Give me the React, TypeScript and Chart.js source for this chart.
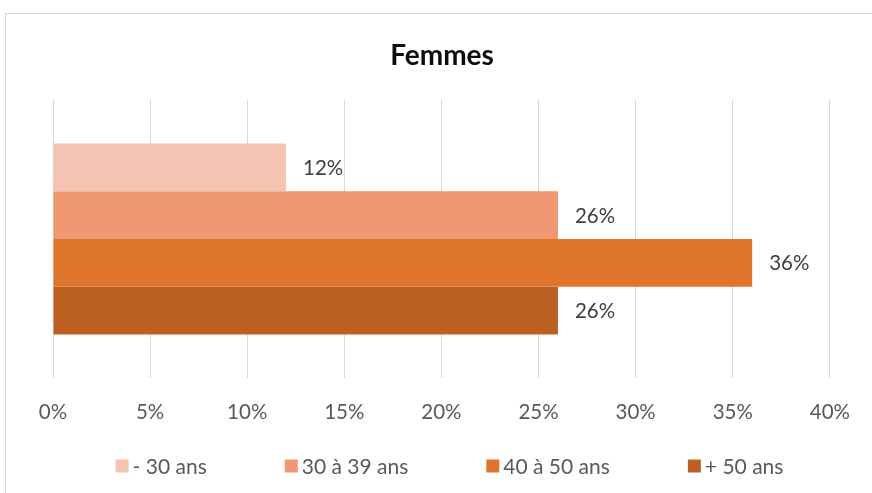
import React, { useEffect, useRef } from "react";
import { Chart, registerables } from "chart.js";

Chart.register(...registerables);

const categories = ["Femmes"];
const seriesLabels = ["- 30 ans", "30 à 39 ans", "40 à 50 ans", "+ 50 ans"];
const seriesValues = [[12], [26], [36], [26]];
const seriesColors = ["#F5C3B2", "#F09871", "#DF742D", "#BB6022"];
const tickValues = [0, 5, 10, 15, 20, 25, 30, 35, 40];

const FONT = "Lato, 'Open Sans', sans-serif";

const frameBorder = {
  id: "frameBorder",
  beforeDraw(chart: any) {
    const ctx = chart.ctx;
    ctx.save();
    ctx.fillStyle = "#ffffff";
    ctx.fillRect(0, 0, chart.width, chart.height);
    ctx.strokeStyle = "#d9d9d9";
    ctx.lineWidth = 1;
    ctx.strokeRect(5.5, 13.5, chart.width + 50, chart.height + 50);
    ctx.restore();
  },
};

const valueLabels = {
  id: "valueLabels",
  afterDatasetsDraw(chart: any) {
    const ctx = chart.ctx;
    ctx.save();
    ctx.font = `20.5px ${FONT}`;
    ctx.fillStyle = "#404040";
    ctx.textBaseline = "middle";
    ctx.textAlign = "left";
    chart.data.datasets.forEach((ds: any, i: number) => {
      const meta = chart.getDatasetMeta(i);
      meta.data.forEach((bar: any, j: number) => {
        ctx.fillText(`${ds.data[j]}%`, bar.x + 17, bar.y + 1);
      });
    });
    ctx.restore();
  },
};

const bottomLegend = {
  id: "bottomLegend",
  afterDraw(chart: any) {
    const ctx = chart.ctx;
    ctx.save();
    ctx.font = `21px ${FONT}`;
    const box = 13;
    const gapText = 4;
    const gapItem = 78;
    const ds = chart.data.datasets;
    const widths = ds.map((d: any) => box + gapText + ctx.measureText(d.label).width);
    const total = widths.reduce((a: number, b: number) => a + b, 0) + gapItem * (ds.length - 1);
    let x = 449.5 - total / 2;
    const cy = 466;
    ds.forEach((d: any, i: number) => {
      ctx.fillStyle = d.backgroundColor;
      ctx.fillRect(x, cy - box / 2, box, box);
      ctx.fillStyle = "#595959";
      ctx.textBaseline = "middle";
      ctx.textAlign = "left";
      ctx.fillText(d.label, x + box + gapText, cy + 1);
      x += widths[i] + gapItem;
    });
    ctx.restore();
  },
};

export default function App() {
  const ref = useRef<HTMLCanvasElement>(null);
  useEffect(() => {
    if (!ref.current) return;
    const chart = new Chart(ref.current, {
      type: "bar",
      data: {
        labels: categories,
        datasets: seriesLabels.map((label, i) => ({
          label,
          data: seriesValues[i],
          backgroundColor: seriesColors[i],
          borderWidth: 0,
          categoryPercentage: 0.685,
          barPercentage: 1,
        })),
      },
      options: {
        indexAxis: "y",
        responsive: false,
        animation: false,
        devicePixelRatio: 1,
        layout: { padding: { left: 53, right: 41, top: 0, bottom: 46 } },
        plugins: {
          legend: { display: false },
          tooltip: { enabled: false },
          title: {
            display: true,
            text: "Femmes",
            color: "#0d0d0d",
            font: { family: FONT, size: 28, weight: "bold" },
            padding: { top: 39, bottom: 27 },
          },
        },
        scales: {
          x: {
            min: 0,
            max: 40,
            afterBuildTicks(axis: any) {
              axis.ticks = tickValues.map((v) => ({ value: v }));
            },
            grid: { color: "#d9d9d9", lineWidth: 1, drawTicks: false },
            border: { display: false },
            ticks: {
              padding: 22,
              color: "#595959",
              font: { family: FONT, size: 20.5 },
              callback: (v: any) => `${v}%`,
            },
          },
          y: {
            display: false,
          },
        },
      },
      plugins: [frameBorder, valueLabels, bottomLegend],
    });
    return () => chart.destroy();
  }, []);
  return (
    <div style={{ position: "absolute", left: 0, top: 0, width: 872, height: 493 }}>
      <canvas ref={ref} width={872} height={493} style={{ display: "block" }} />
    </div>
  );
}
